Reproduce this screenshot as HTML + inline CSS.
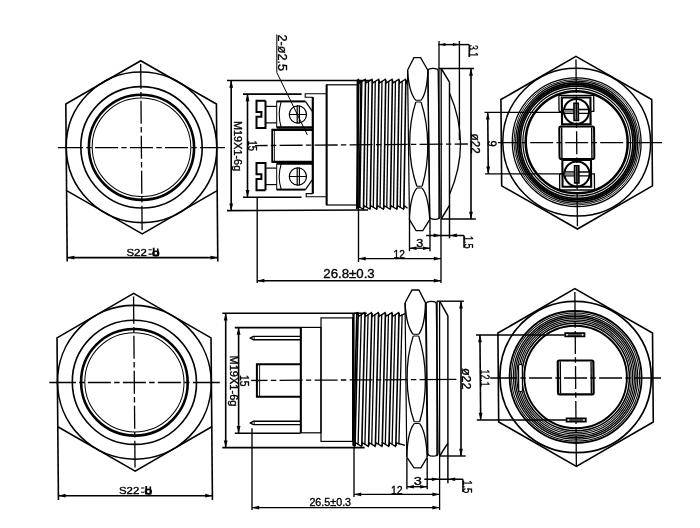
<!DOCTYPE html>
<html><head><meta charset="utf-8"><style>
html,body{margin:0;padding:0;background:#fff;}
svg{display:block;will-change:transform;}
text{font-family:"Liberation Sans",sans-serif;fill:#000;stroke:#000;stroke-width:0.35px;}
</style></head><body>
<svg width="700" height="528" viewBox="0 0 700 528">
<rect width="700" height="528" fill="#fff"/>
<g fill="none" stroke="#000" stroke-linecap="butt" stroke-linejoin="miter">
<g transform="translate(0 147.3) skewX(0.5) translate(0 -147.3)">
<polygon points="141.5,60.7 216.8,104 216.8,190.6 141.5,233.9 66.2,190.6 66.2,104" stroke-width="1.6"/>
<circle cx="141.5" cy="147.3" r="75.3" stroke-width="1.6"/>
<circle cx="141.5" cy="147.3" r="60.7" stroke-width="1.6"/>
<circle cx="141.5" cy="147.3" r="52.6" stroke-width="2.6"/>
<circle cx="141.5" cy="147.3" r="49.3" stroke-width="1"/>
<line x1="130" y1="147.7" x2="153" y2="147.7" stroke-width="1.3"/>
<line x1="156.3" y1="147.7" x2="161.7" y2="147.7" stroke-width="1.3"/>
<line x1="165" y1="147.7" x2="188" y2="147.7" stroke-width="1.3"/>
<line x1="191.3" y1="147.7" x2="196.7" y2="147.7" stroke-width="1.3"/>
<line x1="200" y1="147.7" x2="225" y2="147.7" stroke-width="1.3"/>
<line x1="121.3" y1="147.7" x2="126.7" y2="147.7" stroke-width="1.3"/>
<line x1="95" y1="147.7" x2="118" y2="147.7" stroke-width="1.3"/>
<line x1="86.3" y1="147.7" x2="91.7" y2="147.7" stroke-width="1.3"/>
<line x1="57.9" y1="147.7" x2="83" y2="147.7" stroke-width="1.3"/>
<line x1="141.4" y1="135.8" x2="141.4" y2="158.8" stroke-width="1.3"/>
<line x1="141.4" y1="162.1" x2="141.4" y2="167.5" stroke-width="1.3"/>
<line x1="141.4" y1="170.8" x2="141.4" y2="193.8" stroke-width="1.3"/>
<line x1="141.4" y1="197.1" x2="141.4" y2="202.5" stroke-width="1.3"/>
<line x1="141.4" y1="205.8" x2="141.4" y2="230.3" stroke-width="1.3"/>
<line x1="141.4" y1="127.1" x2="141.4" y2="132.5" stroke-width="1.3"/>
<line x1="141.4" y1="100.8" x2="141.4" y2="123.8" stroke-width="1.3"/>
<line x1="141.4" y1="92.1" x2="141.4" y2="97.5" stroke-width="1.3"/>
<line x1="141.4" y1="63.9" x2="141.4" y2="88.8" stroke-width="1.3"/>
<line x1="66.2" y1="190.6" x2="66.2" y2="261.4" stroke-width="1.6"/>
<line x1="216.8" y1="190.6" x2="216.8" y2="261.4" stroke-width="1.6"/>
<line x1="66.2" y1="257.6" x2="216.8" y2="257.6" stroke-width="1.6"/>
<polygon points="66.2,257.6 73.4,255.7 73.4,259.5" fill="#000" stroke="none"/>
<polygon points="216.8,257.6 209.6,255.7 209.6,259.5" fill="#000" stroke="none"/>
<text x="125.5" y="255.8" font-size="10.2" textLength="20.3" lengthAdjust="spacingAndGlyphs">S22</text>
<line x1="147.6" y1="249.8" x2="150.9" y2="249.8" stroke-width="1.1"/>
<line x1="147.6" y1="254.1" x2="150.9" y2="254.1" stroke-width="1.1"/>
<line x1="152.8" y1="247.8" x2="152.8" y2="256" stroke-width="1.8"/>
<line x1="156.9" y1="248.4" x2="156.9" y2="256" stroke-width="1.6"/>
<ellipse cx="154.9" cy="253.4" rx="2.9" ry="2.2" stroke-width="1.6"/>
<line x1="151.9" y1="255.5" x2="157.9" y2="255.5" stroke-width="1.4"/>
</g>
<g transform="translate(0 382.3) skewX(0.5) translate(0 -382.3)">
<polygon points="134.4,293.4 211.4,337.85 211.4,426.75 134.4,471.2 57.4,426.75 57.4,337.85" stroke-width="1.6"/>
<circle cx="134.4" cy="382.3" r="76.9" stroke-width="1.6"/>
<circle cx="134.4" cy="382.3" r="62.1" stroke-width="1.6"/>
<circle cx="134.4" cy="382.3" r="53.3" stroke-width="2.6"/>
<circle cx="134.4" cy="382.3" r="49.6" stroke-width="1"/>
<line x1="122.9" y1="382.5" x2="145.9" y2="382.5" stroke-width="1.3"/>
<line x1="149.2" y1="382.5" x2="154.6" y2="382.5" stroke-width="1.3"/>
<line x1="157.9" y1="382.5" x2="180.9" y2="382.5" stroke-width="1.3"/>
<line x1="184.2" y1="382.5" x2="189.6" y2="382.5" stroke-width="1.3"/>
<line x1="192.9" y1="382.5" x2="219.8" y2="382.5" stroke-width="1.3"/>
<line x1="114.2" y1="382.5" x2="119.6" y2="382.5" stroke-width="1.3"/>
<line x1="87.9" y1="382.5" x2="110.9" y2="382.5" stroke-width="1.3"/>
<line x1="79.2" y1="382.5" x2="84.6" y2="382.5" stroke-width="1.3"/>
<line x1="49.3" y1="382.5" x2="75.9" y2="382.5" stroke-width="1.3"/>
<line x1="134.3" y1="370.8" x2="134.3" y2="393.8" stroke-width="1.3"/>
<line x1="134.3" y1="397.1" x2="134.3" y2="402.5" stroke-width="1.3"/>
<line x1="134.3" y1="405.8" x2="134.3" y2="428.8" stroke-width="1.3"/>
<line x1="134.3" y1="432.1" x2="134.3" y2="437.5" stroke-width="1.3"/>
<line x1="134.3" y1="440.8" x2="134.3" y2="467.5" stroke-width="1.3"/>
<line x1="134.3" y1="362.1" x2="134.3" y2="367.5" stroke-width="1.3"/>
<line x1="134.3" y1="335.8" x2="134.3" y2="358.8" stroke-width="1.3"/>
<line x1="134.3" y1="327.1" x2="134.3" y2="332.5" stroke-width="1.3"/>
<line x1="134.3" y1="296.5" x2="134.3" y2="323.8" stroke-width="1.3"/>
<line x1="57.4" y1="426.75" x2="57.4" y2="500" stroke-width="1.6"/>
<line x1="211.4" y1="426.75" x2="211.4" y2="500" stroke-width="1.6"/>
<line x1="57.4" y1="495.7" x2="211.4" y2="495.7" stroke-width="1.6"/>
<polygon points="57.4,495.7 64.6,493.8 64.6,497.6" fill="#000" stroke="none"/>
<polygon points="211.4,495.7 204.2,493.8 204.2,497.6" fill="#000" stroke="none"/>
<text x="118" y="494" font-size="10.2" textLength="20.3" lengthAdjust="spacingAndGlyphs">S22</text>
<line x1="140.1" y1="488" x2="143.4" y2="488" stroke-width="1.1"/>
<line x1="140.1" y1="492.3" x2="143.4" y2="492.3" stroke-width="1.1"/>
<line x1="145.3" y1="486" x2="145.3" y2="494.2" stroke-width="1.8"/>
<line x1="149.4" y1="486.6" x2="149.4" y2="494.2" stroke-width="1.6"/>
<ellipse cx="147.4" cy="491.6" rx="2.9" ry="2.2" stroke-width="1.6"/>
<line x1="144.4" y1="493.7" x2="150.4" y2="493.7" stroke-width="1.4"/>
</g>
<g transform="translate(0 142.7) skewX(0.5) translate(0 -142.7)">
<polygon points="576.7,56.4 652.1,99.55 652.1,185.85 576.7,229 501.3,185.85 501.3,99.55" stroke-width="1.6"/>
<circle cx="576.7" cy="142.2" r="73.9" stroke-width="1.5"/>
<circle cx="576.7" cy="142.2" r="64.4" stroke-width="1.3"/>
<circle cx="576.7" cy="142.2" r="62.8" stroke-width="0.9"/>
<circle cx="576.7" cy="142.2" r="61" stroke-width="1.2"/>
<circle cx="576.7" cy="142.2" r="59.3" stroke-width="1.6"/>
<circle cx="576.7" cy="142.2" r="57.7" stroke-width="1.8"/>
<circle cx="576.7" cy="142.2" r="56.1" stroke-width="1.6"/>
<circle cx="576.7" cy="142.2" r="53.8" stroke-width="1.2"/>
<circle cx="576.7" cy="142.2" r="51" stroke-width="2.5"/>
<polyline points="559.3,111.4 559.3,95.3 594.1,95.3 594.1,111.4 590.8,111.4" stroke-width="1.3"/>
<line x1="559.3" y1="111.4" x2="562.2" y2="111.4" stroke-width="1.3"/>
<rect x="562.2" y="97.5" width="28.6" height="26.8" stroke-width="2.1" fill="#fff"/>
<circle cx="576.7" cy="111.4" r="12.5" stroke-width="2"/>
<rect x="563.8" y="109.5" width="25.1" height="3.8" stroke-width="1.3" fill="#fff"/>
<rect x="564.4" y="110.1" width="10" height="2.6" stroke="none" fill="#888"/>
<rect x="574.3" y="103.3" width="4.3" height="17.1" stroke-width="1.6" fill="#bbb"/>
<line x1="576.45" y1="103.9" x2="576.45" y2="119.8" stroke-width="0.8"/>
<polyline points="559.3,173.9 559.3,190 594.1,190 594.1,173.9 590.8,173.9" stroke-width="1.3"/>
<line x1="559.3" y1="173.9" x2="562.2" y2="173.9" stroke-width="1.3"/>
<rect x="562.2" y="160" width="28.6" height="26.8" stroke-width="2.1" fill="#fff"/>
<circle cx="576.7" cy="173.9" r="12.5" stroke-width="2"/>
<rect x="563.8" y="172" width="25.1" height="3.8" stroke-width="1.3" fill="#fff"/>
<rect x="564.4" y="172.6" width="10" height="2.6" stroke="none" fill="#888"/>
<rect x="574.3" y="165.8" width="4.3" height="17.1" stroke-width="1.6" fill="#bbb"/>
<line x1="576.45" y1="166.4" x2="576.45" y2="182.3" stroke-width="0.8"/>
<rect x="559.4" y="126.4" width="34.8" height="32.7" rx="1.8" stroke-width="2" fill="#fff"/>
<line x1="561.8" y1="127.5" x2="561.8" y2="158" stroke-width="1.35"/>
<line x1="591.8" y1="127.5" x2="591.8" y2="158" stroke-width="1.35"/>
<line x1="565.2" y1="142.7" x2="588.2" y2="142.7" stroke-width="1.3"/>
<line x1="591.5" y1="142.7" x2="596.9" y2="142.7" stroke-width="1.3"/>
<line x1="600.2" y1="142.7" x2="623.2" y2="142.7" stroke-width="1.3"/>
<line x1="626.5" y1="142.7" x2="631.9" y2="142.7" stroke-width="1.3"/>
<line x1="635.2" y1="142.7" x2="662" y2="142.7" stroke-width="1.3"/>
<line x1="556.5" y1="142.7" x2="561.9" y2="142.7" stroke-width="1.3"/>
<line x1="530.2" y1="142.7" x2="553.2" y2="142.7" stroke-width="1.3"/>
<line x1="521.5" y1="142.7" x2="526.9" y2="142.7" stroke-width="1.3"/>
<line x1="498" y1="142.7" x2="518.2" y2="142.7" stroke-width="1.3"/>
<line x1="576.7" y1="131.2" x2="576.7" y2="154.2" stroke-width="1.3"/>
<line x1="576.7" y1="157.5" x2="576.7" y2="162.9" stroke-width="1.3"/>
<line x1="576.7" y1="166.2" x2="576.7" y2="189.2" stroke-width="1.3"/>
<line x1="576.7" y1="192.5" x2="576.7" y2="197.9" stroke-width="1.3"/>
<line x1="576.7" y1="201.2" x2="576.7" y2="226.2" stroke-width="1.3"/>
<line x1="576.7" y1="122.5" x2="576.7" y2="127.9" stroke-width="1.3"/>
<line x1="576.7" y1="96.2" x2="576.7" y2="119.2" stroke-width="1.3"/>
<line x1="576.7" y1="87.5" x2="576.7" y2="92.9" stroke-width="1.3"/>
<line x1="576.7" y1="59.5" x2="576.7" y2="84.2" stroke-width="1.3"/>
<line x1="484.8" y1="112.4" x2="565" y2="112.4" stroke-width="1.35"/>
<line x1="484.8" y1="173.8" x2="565" y2="173.8" stroke-width="1.35"/>
<line x1="488" y1="112.4" x2="488" y2="173.8" stroke-width="1.6"/>
<polygon points="488,112.4 486.1,119.6 489.9,119.6" fill="#000" stroke="none"/>
<polygon points="488,173.8 486.1,166.6 489.9,166.6" fill="#000" stroke="none"/>
<text x="140.6" y="-488.1" font-size="12.3" textLength="6.2" lengthAdjust="spacingAndGlyphs" transform="rotate(90)">9</text>
</g>
<g transform="translate(0 377.5) skewX(0.5) translate(0 -377.5)">
<polygon points="575.6,288.6 652.9,333.05 652.9,421.95 575.6,466.4 498.3,421.95 498.3,333.05" stroke-width="1.6"/>
<circle cx="575.6" cy="377" r="75.7" stroke-width="1.7"/>
<circle cx="575.6" cy="377" r="66" stroke-width="1.8"/>
<circle cx="575.6" cy="377" r="64.1" stroke-width="1"/>
<circle cx="575.6" cy="377" r="62.2" stroke-width="1.2"/>
<circle cx="575.6" cy="377" r="60.5" stroke-width="1.3"/>
<circle cx="575.6" cy="377" r="58.8" stroke-width="1.2"/>
<circle cx="575.6" cy="377" r="57.1" stroke-width="1.2"/>
<circle cx="575.6" cy="377" r="55.5" stroke-width="1"/>
<circle cx="575.6" cy="377" r="53.8" stroke-width="1.5"/>
<circle cx="575.6" cy="377" r="51.3" stroke-width="1.9"/>
<rect x="518.6" y="364.5" width="3.8" height="27" rx="1.5" stroke-width="1.2" fill="#fff"/>
<rect x="557.9" y="360.5" width="35.6" height="33.8" rx="1.5" stroke-width="2.2" fill="#fff"/>
<line x1="560.4" y1="361.5" x2="560.4" y2="393.5" stroke-width="1.35"/>
<line x1="591.2" y1="361.5" x2="591.2" y2="393.5" stroke-width="1.35"/>
<line x1="564.1" y1="378" x2="587.1" y2="378" stroke-width="1.3"/>
<line x1="590.4" y1="378" x2="595.8" y2="378" stroke-width="1.3"/>
<line x1="599.1" y1="378" x2="622.1" y2="378" stroke-width="1.3"/>
<line x1="625.4" y1="378" x2="630.8" y2="378" stroke-width="1.3"/>
<line x1="634.1" y1="378" x2="661" y2="378" stroke-width="1.3"/>
<line x1="555.4" y1="378" x2="560.8" y2="378" stroke-width="1.3"/>
<line x1="529.1" y1="378" x2="552.1" y2="378" stroke-width="1.3"/>
<line x1="520.4" y1="378" x2="525.8" y2="378" stroke-width="1.3"/>
<line x1="490.2" y1="378" x2="517.1" y2="378" stroke-width="1.3"/>
<line x1="575.6" y1="366" x2="575.6" y2="389" stroke-width="1.3"/>
<line x1="575.6" y1="392.3" x2="575.6" y2="397.7" stroke-width="1.3"/>
<line x1="575.6" y1="401" x2="575.6" y2="424" stroke-width="1.3"/>
<line x1="575.6" y1="427.3" x2="575.6" y2="432.7" stroke-width="1.3"/>
<line x1="575.6" y1="436" x2="575.6" y2="466" stroke-width="1.3"/>
<line x1="575.6" y1="357.3" x2="575.6" y2="362.7" stroke-width="1.3"/>
<line x1="575.6" y1="331" x2="575.6" y2="354" stroke-width="1.3"/>
<line x1="575.6" y1="322.3" x2="575.6" y2="327.7" stroke-width="1.3"/>
<line x1="575.6" y1="292.1" x2="575.6" y2="319" stroke-width="1.3"/>
<rect x="565.6" y="333.1" width="19.2" height="3.3" stroke-width="1.8" fill="#555"/>
<rect x="566.6" y="334" width="1.6" height="1.5" stroke="none" fill="#fff"/>
<rect x="582.2" y="334" width="1.6" height="1.5" stroke="none" fill="#fff"/>
<rect x="566.2" y="418.3" width="19.2" height="3.3" stroke-width="1.8" fill="#555"/>
<rect x="567.2" y="419.2" width="1.6" height="1.5" stroke="none" fill="#fff"/>
<rect x="582.8" y="419.2" width="1.6" height="1.5" stroke="none" fill="#fff"/>
<line x1="476.4" y1="335" x2="565" y2="335" stroke-width="1.35"/>
<line x1="476.4" y1="420" x2="565.6" y2="420" stroke-width="1.35"/>
<line x1="480.3" y1="335" x2="480.3" y2="420" stroke-width="1.6"/>
<polygon points="480.3,335 478.4,342.2 482.2,342.2" fill="#000" stroke="none"/>
<polygon points="480.3,420 478.4,412.8 482.2,412.8" fill="#000" stroke="none"/>
<text x="369.5" y="-480.6" font-size="13" textLength="17.2" lengthAdjust="spacingAndGlyphs" transform="rotate(90)">12.1</text>
</g>
<line x1="227" y1="80.5" x2="371.5" y2="80.5" stroke-width="1.6"/>
<line x1="227" y1="210.6" x2="368" y2="210" stroke-width="1.6"/>
<line x1="231.2" y1="80.5" x2="231.2" y2="210.8" stroke-width="1.6"/>
<polygon points="231.2,80.5 229.3,87.7 233.1,87.7" fill="#000" stroke="none"/>
<polygon points="231.2,210.8 229.3,203.6 233.1,203.6" fill="#000" stroke="none"/>
<text x="121" y="-234.4" font-size="11" textLength="50.2" lengthAdjust="spacingAndGlyphs" transform="rotate(90)">M19X1-6g</text>
<line x1="243" y1="94.1" x2="301.6" y2="94.1" stroke-width="1.6"/>
<line x1="243" y1="197.2" x2="301.6" y2="197.2" stroke-width="1.6"/>
<line x1="247.5" y1="94.1" x2="247.5" y2="197.2" stroke-width="1.6"/>
<polygon points="247.5,94.1 245.6,101.3 249.4,101.3" fill="#000" stroke="none"/>
<polygon points="247.5,197.2 245.6,190 249.4,190" fill="#000" stroke="none"/>
<text x="140.5" y="-248" font-size="12" textLength="10.5" lengthAdjust="spacingAndGlyphs" transform="rotate(90)">15</text>
<text x="34.6" y="-277.8" font-size="13.5" textLength="36.5" lengthAdjust="spacingAndGlyphs" transform="rotate(90)">2-ø2.5</text>
<polyline points="276.8,34.5 276.8,72.5 307.4,135" stroke-width="1"/>
<polyline points="265.5,100.8 256.5,100.8 256.5,112 261.4,112 261.4,116.7 256.5,116.7 256.5,128 265.5,128 265.5,100.8" stroke-width="2"/>
<line x1="265.5" y1="106.4" x2="276.7" y2="106.4" stroke-width="1.2"/>
<line x1="265.5" y1="122.9" x2="276.7" y2="122.9" stroke-width="1.2"/>
<line x1="276.7" y1="101.2" x2="276.7" y2="127.5" stroke-width="1"/>
<line x1="276.7" y1="101.4" x2="305.4" y2="101.4" stroke-width="2"/>
<line x1="276.7" y1="127.5" x2="312.8" y2="127.5" stroke-width="2.6"/>
<path d="M281.2,101.6 Q277.2,114.4 281.2,127.2" stroke-width="1.1" fill="none"/>
<line x1="305.4" y1="101.4" x2="312.8" y2="111.8" stroke-width="1.2"/>
<circle cx="297.9" cy="114.5" r="8.6" stroke-width="1.2"/>
<line x1="289" y1="114.5" x2="306.8" y2="114.5" stroke-width="1"/>
<line x1="297.2" y1="105.6" x2="297.2" y2="123.4" stroke-width="1.2"/>
<line x1="299.4" y1="105.6" x2="299.4" y2="123.4" stroke-width="1.2"/>
<polyline points="265.5,190.2 256.5,190.2 256.5,179 261.4,179 261.4,174.3 256.5,174.3 256.5,163 265.5,163 265.5,190.2" stroke-width="2"/>
<line x1="265.5" y1="184.6" x2="276.7" y2="184.6" stroke-width="1.2"/>
<line x1="265.5" y1="168.1" x2="276.7" y2="168.1" stroke-width="1.2"/>
<line x1="276.7" y1="189.8" x2="276.7" y2="163.5" stroke-width="1"/>
<line x1="276.7" y1="189.6" x2="305.4" y2="189.6" stroke-width="2"/>
<line x1="276.7" y1="163.5" x2="312.8" y2="163.5" stroke-width="2.6"/>
<path d="M281.2,189.4 Q277.2,176.6 281.2,163.8" stroke-width="1.1" fill="none"/>
<line x1="305.4" y1="189.6" x2="312.8" y2="179.2" stroke-width="1.2"/>
<circle cx="297.9" cy="176.5" r="8.6" stroke-width="1.2"/>
<line x1="289" y1="176.5" x2="306.8" y2="176.5" stroke-width="1"/>
<line x1="297.2" y1="185.4" x2="297.2" y2="167.6" stroke-width="1.2"/>
<line x1="299.4" y1="185.4" x2="299.4" y2="167.6" stroke-width="1.2"/>
<line x1="272.2" y1="129.8" x2="312.8" y2="129.8" stroke-width="2.2"/>
<line x1="272.2" y1="161.8" x2="312.8" y2="161.8" stroke-width="2.2"/>
<line x1="272.2" y1="128.8" x2="272.2" y2="162.8" stroke-width="1.8"/>
<line x1="274.4" y1="130.5" x2="274.4" y2="161" stroke-width="0.9"/>
<line x1="312.8" y1="97.1" x2="312.8" y2="193.6" stroke-width="2.2"/>
<polyline points="312.8,97.3 305.2,97.3 305.2,93.7 326.4,93.7" stroke-width="1.1"/>
<polyline points="312.8,193.6 306.2,193.6 306.2,196.8 326.4,196.8" stroke-width="1.1"/>
<rect x="326.6" y="84.8" width="30.8" height="120.2" stroke-width="1.2" fill="none"/>
<line x1="326.6" y1="84.8" x2="326.6" y2="205" stroke-width="2"/>
<line x1="419.6" y1="144.36" x2="442.6" y2="144.19" stroke-width="1.3"/>
<line x1="445.9" y1="144.16" x2="451.3" y2="144.12" stroke-width="1.3"/>
<line x1="454.6" y1="144.1" x2="467.8" y2="144" stroke-width="1.3"/>
<line x1="410.9" y1="144.43" x2="416.3" y2="144.39" stroke-width="1.3"/>
<line x1="384.6" y1="144.63" x2="407.6" y2="144.45" stroke-width="1.3"/>
<line x1="375.9" y1="144.69" x2="381.3" y2="144.65" stroke-width="1.3"/>
<line x1="349.6" y1="144.89" x2="372.6" y2="144.72" stroke-width="1.3"/>
<line x1="340.9" y1="144.95" x2="346.3" y2="144.91" stroke-width="1.3"/>
<line x1="314.6" y1="145.15" x2="337.6" y2="144.98" stroke-width="1.3"/>
<line x1="305.9" y1="145.22" x2="311.3" y2="145.18" stroke-width="1.3"/>
<line x1="279.6" y1="145.42" x2="302.6" y2="145.24" stroke-width="1.3"/>
<line x1="270.9" y1="145.48" x2="276.3" y2="145.44" stroke-width="1.3"/>
<line x1="255.1" y1="145.6" x2="267.6" y2="145.51" stroke-width="1.3"/>
<polyline points="357,80.5 358.5,79.3 359.4,82.9 365.22,79.3 366.12,82.9 371.94,79.3 372.84,82.9 378.66,79.3 379.56,82.9 385.38,79.3 386.28,82.9 392.1,79.3 393,82.9 398.82,79.3 399.72,82.9 405.54,79.3 406.44,82.9 407.5,80.38" stroke-width="1.3"/>
<polyline points="357,208.1 356.5,209.3 357.4,205.7 363.22,209.3 364.12,205.7 369.94,209.3 370.84,205.7 376.66,209.3 377.56,205.7 383.38,209.3 384.28,205.7 390.1,209.3 391,205.7 396.82,209.3 397.72,205.7 403.54,209.3 404.44,205.7 407.5,208.22" stroke-width="1.3"/>
<line x1="358.8" y1="79.8" x2="356.8" y2="208.8" stroke-width="1.6"/>
<line x1="361.86" y1="81.1" x2="359.86" y2="207.5" stroke-width="1.3"/>
<line x1="365.52" y1="79.8" x2="363.52" y2="208.8" stroke-width="1.6"/>
<line x1="368.58" y1="81.1" x2="366.58" y2="207.5" stroke-width="1.3"/>
<line x1="372.24" y1="79.8" x2="370.24" y2="208.8" stroke-width="1.6"/>
<line x1="375.3" y1="81.1" x2="373.3" y2="207.5" stroke-width="1.3"/>
<line x1="378.96" y1="79.8" x2="376.96" y2="208.8" stroke-width="1.6"/>
<line x1="382.02" y1="81.1" x2="380.02" y2="207.5" stroke-width="1.3"/>
<line x1="385.68" y1="79.8" x2="383.68" y2="208.8" stroke-width="1.6"/>
<line x1="388.74" y1="81.1" x2="386.74" y2="207.5" stroke-width="1.3"/>
<line x1="392.4" y1="79.8" x2="390.4" y2="208.8" stroke-width="1.6"/>
<line x1="395.46" y1="81.1" x2="393.46" y2="207.5" stroke-width="1.3"/>
<line x1="399.12" y1="79.8" x2="397.12" y2="208.8" stroke-width="1.6"/>
<line x1="402.18" y1="81.1" x2="400.18" y2="207.5" stroke-width="1.3"/>
<line x1="405.84" y1="79.8" x2="403.84" y2="208.8" stroke-width="1.6"/>
<line x1="357.7" y1="80.5" x2="357.7" y2="208.1" stroke-width="2.2"/>
<line x1="361" y1="80.5" x2="359" y2="208.1" stroke-width="1.6"/>
<g transform="translate(0 144) skewX(0.72) translate(0 -144)">
<polyline points="408.5,70.2 415,57.7 421.7,57.7 428.8,70.2" stroke-width="1.3"/>
<polyline points="408.5,219.7 415,230.7 421.7,230.7 428.8,219.7" stroke-width="1.3"/>
<line x1="408.5" y1="70.2" x2="408.5" y2="219.7" stroke-width="1.2"/>
<line x1="428.8" y1="70.2" x2="428.8" y2="219.7" stroke-width="1.2"/>
<line x1="416.3" y1="100.3" x2="421.6" y2="100.3" stroke-width="1"/>
<line x1="416.3" y1="102.1" x2="421.6" y2="102.1" stroke-width="1"/>
<line x1="416.3" y1="188.1" x2="421.6" y2="188.1" stroke-width="1"/>
<line x1="416.3" y1="186.3" x2="421.6" y2="186.3" stroke-width="1"/>
<path d="M408.5,70.2 Q409.5,92.3 416.3,100.3" stroke-width="1.3" fill="none"/>
<path d="M428.8,70.2 Q427.8,92.3 421.6,100.3" stroke-width="1.3" fill="none"/>
<path d="M408.5,219.7 Q409.5,196.1 416.3,188.1" stroke-width="1.3" fill="none"/>
<path d="M428.8,219.7 Q427.8,196.1 421.6,188.1" stroke-width="1.3" fill="none"/>
<path d="M416.3,102.1 C407.5,128.3 407.5,160.1 416.3,186.3" stroke-width="1.3" fill="none"/>
<path d="M421.6,102.1 C429.8,128.3 429.8,160.1 421.6,186.3" stroke-width="1.3" fill="none"/>
<path d="M428.8,71 Q428.8,68.4 433.9,68.4 Q439.1,68.4 439.1,71 L439.1,216.5 Q439.1,219.3 433.9,219.3 Q428.8,219.3 428.8,216.5 Z" stroke-width="1.3" fill="none"/>
</g>
<line x1="439" y1="41" x2="439" y2="219" stroke-width="1.3"/>
<line x1="441.2" y1="68.5" x2="441.2" y2="219" stroke-width="1.3"/>
<line x1="438.6" y1="68.5" x2="474" y2="68.5" stroke-width="1.4"/>
<line x1="441.5" y1="219" x2="475.8" y2="219" stroke-width="1.4"/>
<line x1="441.2" y1="68.5" x2="449.5" y2="82.2" stroke-width="1.45"/>
<line x1="441.2" y1="219" x2="449.5" y2="205.4" stroke-width="1.45"/>
<line x1="449.5" y1="82.2" x2="449.5" y2="238.3" stroke-width="1.45"/>
<path d="M449.5,93 Q471.5,143.8 449.5,194.5" stroke-width="1.3" fill="none"/>
<line x1="459.4" y1="41" x2="459.4" y2="140" stroke-width="1.35"/>
<line x1="438.5" y1="44.6" x2="469.2" y2="44.6" stroke-width="1.45"/>
<polygon points="439,44.6 445.5,43.1 445.5,46.1" fill="#000" stroke="none"/>
<polygon points="459.4,44.6 452.9,43.1 452.9,46.1" fill="#000" stroke="none"/>
<line x1="469.2" y1="44.6" x2="469.2" y2="57" stroke-width="1.35"/>
<text x="45" y="-469.2" font-size="12.5" textLength="12.1" lengthAdjust="spacingAndGlyphs" transform="rotate(90)">3.1</text>
<line x1="471" y1="68.5" x2="471" y2="219" stroke-width="1.6"/>
<polygon points="471,68.5 469.1,75.7 472.9,75.7" fill="#000" stroke="none"/>
<polygon points="471,219 469.1,211.8 472.9,211.8" fill="#000" stroke="none"/>
<text x="133.5" y="-471.3" font-size="12.9" textLength="20.2" lengthAdjust="spacingAndGlyphs" transform="rotate(90)">ø22</text>
<line x1="409.5" y1="219.5" x2="409.5" y2="251.2" stroke-width="1.35"/>
<line x1="430" y1="219.5" x2="430" y2="251.2" stroke-width="1.35"/>
<line x1="409.5" y1="248.2" x2="430" y2="248.2" stroke-width="1.35"/>
<polygon points="409.5,248.2 416.5,246.4 416.5,250" fill="#000" stroke="none"/>
<polygon points="430,248.2 423,246.4 423,250" fill="#000" stroke="none"/>
<text x="416.2" y="247.1" font-size="10" textLength="7" lengthAdjust="spacingAndGlyphs">3</text>
<line x1="426.1" y1="235.4" x2="464" y2="235.4" stroke-width="1.45"/>
<line x1="464" y1="235.4" x2="464" y2="247.7" stroke-width="1.45"/>
<polygon points="440.6,235.4 433.6,233.6 433.6,237.2" fill="#000" stroke="none"/>
<polygon points="449.8,235.4 456.8,233.6 456.8,237.2" fill="#000" stroke="none"/>
<text x="235.9" y="-464.3" font-size="12.7" textLength="12.6" lengthAdjust="spacingAndGlyphs" transform="rotate(90)">1.5</text>
<line x1="441" y1="219" x2="441" y2="283" stroke-width="1.35"/>
<line x1="358.5" y1="208" x2="358.5" y2="262" stroke-width="1.35"/>
<line x1="257.2" y1="197.5" x2="257.2" y2="283" stroke-width="1.35"/>
<line x1="358.5" y1="258.6" x2="441" y2="258.6" stroke-width="1.35"/>
<polygon points="358.5,258.6 365.7,256.7 365.7,260.5" fill="#000" stroke="none"/>
<polygon points="441,258.6 433.8,256.7 433.8,260.5" fill="#000" stroke="none"/>
<text x="393.5" y="257.8" font-size="11.2" textLength="11.3" lengthAdjust="spacingAndGlyphs">12</text>
<line x1="257.2" y1="280.7" x2="441" y2="280.7" stroke-width="1.5"/>
<polygon points="257.2,280.7 264.4,278.8 264.4,282.6" fill="#000" stroke="none"/>
<polygon points="441,280.7 433.8,278.8 433.8,282.6" fill="#000" stroke="none"/>
<text x="323.3" y="277.6" font-size="12.9" textLength="51.4" lengthAdjust="spacingAndGlyphs">26.8±0.3</text>
<line x1="222.3" y1="313.3" x2="366.7" y2="313.3" stroke-width="1.6"/>
<line x1="222.3" y1="447.6" x2="364.6" y2="447.6" stroke-width="1.6"/>
<line x1="225.7" y1="313.3" x2="225.7" y2="447.6" stroke-width="1.6"/>
<polygon points="225.7,313.3 223.8,320.5 227.6,320.5" fill="#000" stroke="none"/>
<polygon points="225.7,447.6 223.8,440.4 227.6,440.4" fill="#000" stroke="none"/>
<text x="355.5" y="-230" font-size="11.4" textLength="51" lengthAdjust="spacingAndGlyphs" transform="rotate(90)">M19X1-6g</text>
<line x1="234.8" y1="327.6" x2="300.6" y2="327.6" stroke-width="1.6"/>
<line x1="234.8" y1="433.2" x2="300.6" y2="433.2" stroke-width="1.6"/>
<line x1="238.6" y1="327.6" x2="238.6" y2="433.2" stroke-width="1.6"/>
<polygon points="238.6,327.6 236.7,334.8 240.5,334.8" fill="#000" stroke="none"/>
<polygon points="238.6,433.2 236.7,426 240.5,426" fill="#000" stroke="none"/>
<text x="375" y="-239.9" font-size="12" textLength="11.6" lengthAdjust="spacingAndGlyphs" transform="rotate(90)">15</text>
<path d="M300.5,336.4 H253.3 L250.4,338.05 L253.3,339.7 H300.5" stroke-width="1.4" fill="none"/>
<line x1="254.2" y1="336.4" x2="254.2" y2="339.7" stroke-width="0.9"/>
<path d="M300.5,421.3 H253.3 L250.4,422.95 L253.3,424.6 H300.5" stroke-width="1.4" fill="none"/>
<line x1="254.2" y1="421.3" x2="254.2" y2="424.6" stroke-width="0.9"/>
<polyline points="300.6,364.2 256.9,364.2 256.9,396.8 300.6,396.8" stroke-width="2"/>
<line x1="259.6" y1="365" x2="259.6" y2="396" stroke-width="0.9"/>
<rect x="300.8" y="327.4" width="20.2" height="105.4" stroke-width="1.2" fill="none"/>
<line x1="300.8" y1="327.4" x2="300.8" y2="432.8" stroke-width="2"/>
<rect x="321.0" y="317.9" width="31.6" height="123.5" stroke-width="1.2" fill="none"/>
<line x1="419.6" y1="379.6" x2="456.4" y2="379.4" stroke-width="1.3"/>
<line x1="410.9" y1="379.64" x2="416.3" y2="379.61" stroke-width="1.3"/>
<line x1="384.6" y1="379.78" x2="407.6" y2="379.66" stroke-width="1.3"/>
<line x1="375.9" y1="379.83" x2="381.3" y2="379.8" stroke-width="1.3"/>
<line x1="349.6" y1="379.97" x2="372.6" y2="379.85" stroke-width="1.3"/>
<line x1="340.9" y1="380.02" x2="346.3" y2="379.99" stroke-width="1.3"/>
<line x1="314.6" y1="380.16" x2="337.6" y2="380.04" stroke-width="1.3"/>
<line x1="305.9" y1="380.21" x2="311.3" y2="380.18" stroke-width="1.3"/>
<line x1="279.6" y1="380.35" x2="302.6" y2="380.22" stroke-width="1.3"/>
<line x1="270.9" y1="380.39" x2="276.3" y2="380.37" stroke-width="1.3"/>
<line x1="251.2" y1="380.5" x2="267.6" y2="380.41" stroke-width="1.3"/>
<polyline points="352.8,313.8 357.9,312.6 358.8,316.2 364.7,312.6 365.6,316.2 371.5,312.6 372.4,316.2 378.3,312.6 379.2,316.2 385.1,312.6 386,316.2 391.9,312.6 392.8,316.2 398.7,312.6 399.6,316.2 405,313.68" stroke-width="1.3"/>
<polyline points="352.8,445.2 354.7,446.4 355.6,442.8 361.5,446.4 362.4,442.8 368.3,446.4 369.2,442.8 375.1,446.4 376,442.8 381.9,446.4 382.8,442.8 388.7,446.4 389.6,442.8 395.5,446.4 396.4,442.8 405,445.32" stroke-width="1.3"/>
<line x1="358.2" y1="313.1" x2="355" y2="445.9" stroke-width="1.6"/>
<line x1="361.3" y1="314.4" x2="358.1" y2="444.6" stroke-width="1.3"/>
<line x1="365" y1="313.1" x2="361.8" y2="445.9" stroke-width="1.6"/>
<line x1="368.1" y1="314.4" x2="364.9" y2="444.6" stroke-width="1.3"/>
<line x1="371.8" y1="313.1" x2="368.6" y2="445.9" stroke-width="1.6"/>
<line x1="374.9" y1="314.4" x2="371.7" y2="444.6" stroke-width="1.3"/>
<line x1="378.6" y1="313.1" x2="375.4" y2="445.9" stroke-width="1.6"/>
<line x1="381.7" y1="314.4" x2="378.5" y2="444.6" stroke-width="1.3"/>
<line x1="385.4" y1="313.1" x2="382.2" y2="445.9" stroke-width="1.6"/>
<line x1="388.5" y1="314.4" x2="385.3" y2="444.6" stroke-width="1.3"/>
<line x1="392.2" y1="313.1" x2="389" y2="445.9" stroke-width="1.6"/>
<line x1="395.3" y1="314.4" x2="392.1" y2="444.6" stroke-width="1.3"/>
<line x1="399" y1="313.1" x2="395.8" y2="445.9" stroke-width="1.6"/>
<line x1="402.1" y1="314.4" x2="398.9" y2="444.6" stroke-width="1.3"/>
<line x1="353.5" y1="313.8" x2="353.5" y2="445.2" stroke-width="2.2"/>
<line x1="356.8" y1="313.8" x2="353.6" y2="445.2" stroke-width="1.6"/>
<g transform="translate(0 379) skewX(0.65) translate(0 -379)">
<polyline points="405.9,302.9 413,290 419.9,290 426.4,302.9" stroke-width="1.3"/>
<polyline points="405.9,457.1 413,467.9 419.9,467.9 426.4,457.1" stroke-width="1.3"/>
<line x1="405.9" y1="302.9" x2="405.9" y2="457.1" stroke-width="1.2"/>
<line x1="426.4" y1="302.9" x2="426.4" y2="457.1" stroke-width="1.2"/>
<line x1="413.7" y1="334.3" x2="419.2" y2="334.3" stroke-width="1"/>
<line x1="413.7" y1="336.1" x2="419.2" y2="336.1" stroke-width="1"/>
<line x1="413.7" y1="423.6" x2="419.2" y2="423.6" stroke-width="1"/>
<line x1="413.7" y1="421.8" x2="419.2" y2="421.8" stroke-width="1"/>
<path d="M405.9,302.9 Q406.9,326.3 413.7,334.3" stroke-width="1.3" fill="none"/>
<path d="M426.4,302.9 Q425.4,326.3 419.2,334.3" stroke-width="1.3" fill="none"/>
<path d="M405.9,457.1 Q406.9,431.6 413.7,423.6" stroke-width="1.3" fill="none"/>
<path d="M426.4,457.1 Q425.4,431.6 419.2,423.6" stroke-width="1.3" fill="none"/>
<path d="M413.7,336.1 C404.9,362.3 404.9,395.6 413.7,421.8" stroke-width="1.3" fill="none"/>
<path d="M419.2,336.1 C427.4,362.3 427.4,395.6 419.2,421.8" stroke-width="1.3" fill="none"/>
<path d="M427,304 Q427,301.3 432.1,301.3 Q437.2,301.3 437.2,304 L437.2,453 Q437.2,456.2 432.1,456.2 Q427,456.2 427,453 Z" stroke-width="1.3" fill="none"/>
</g>
<line x1="437" y1="301.2" x2="437" y2="456" stroke-width="1.45"/>
<line x1="439.6" y1="301.2" x2="439.6" y2="510" stroke-width="1.3"/>
<line x1="437" y1="301.2" x2="463.8" y2="301.2" stroke-width="1.4"/>
<line x1="439.6" y1="456" x2="465.7" y2="456" stroke-width="1.4"/>
<line x1="439.6" y1="301.2" x2="447.9" y2="315.8" stroke-width="1.45"/>
<line x1="439.6" y1="456" x2="447.9" y2="443.2" stroke-width="1.45"/>
<line x1="447.9" y1="315.8" x2="447.9" y2="483.3" stroke-width="1.45"/>
<line x1="461" y1="301.2" x2="461" y2="456" stroke-width="1.6"/>
<polygon points="461,301.2 459.1,308.4 462.9,308.4" fill="#000" stroke="none"/>
<polygon points="461,456 459.1,448.8 462.9,448.8" fill="#000" stroke="none"/>
<text x="367.9" y="-461.5" font-size="12" textLength="21.4" lengthAdjust="spacingAndGlyphs" transform="rotate(90)">ø22</text>
<line x1="406.9" y1="458" x2="406.9" y2="489.3" stroke-width="1.35"/>
<line x1="427.2" y1="458" x2="427.2" y2="489.3" stroke-width="1.35"/>
<line x1="406.9" y1="486.7" x2="427.2" y2="486.7" stroke-width="1.35"/>
<polygon points="406.9,486.7 413.9,484.9 413.9,488.5" fill="#000" stroke="none"/>
<polygon points="427.2,486.7 420.2,484.9 420.2,488.5" fill="#000" stroke="none"/>
<text x="413.8" y="485.1" font-size="10.3" textLength="8.1" lengthAdjust="spacingAndGlyphs">3</text>
<line x1="424.3" y1="479.3" x2="462.9" y2="479.3" stroke-width="1.45"/>
<line x1="462.9" y1="479.3" x2="462.9" y2="492" stroke-width="1.45"/>
<polygon points="438.9,479.3 431.9,477.5 431.9,481.1" fill="#000" stroke="none"/>
<polygon points="448.2,479.3 455.2,477.5 455.2,481.1" fill="#000" stroke="none"/>
<text x="480.2" y="-463.3" font-size="13" textLength="13.2" lengthAdjust="spacingAndGlyphs" transform="rotate(90)">1.5</text>
<line x1="354" y1="447" x2="354" y2="497" stroke-width="1.35"/>
<line x1="252" y1="428.3" x2="252" y2="510" stroke-width="1.35"/>
<line x1="354" y1="494.4" x2="439.6" y2="494.4" stroke-width="1.35"/>
<polygon points="354,494.4 361.2,492.5 361.2,496.3" fill="#000" stroke="none"/>
<polygon points="439.6,494.4 432.4,492.5 432.4,496.3" fill="#000" stroke="none"/>
<text x="390.9" y="493.7" font-size="11.5" textLength="11.7" lengthAdjust="spacingAndGlyphs">12</text>
<line x1="252" y1="507.6" x2="439.6" y2="507.6" stroke-width="1.35"/>
<polygon points="252,507.6 259.2,505.7 259.2,509.5" fill="#000" stroke="none"/>
<polygon points="439.6,507.6 432.4,505.7 432.4,509.5" fill="#000" stroke="none"/>
<text x="309.4" y="506" font-size="11.3" textLength="41.7" lengthAdjust="spacingAndGlyphs">26.5±0.3</text>
</g>
</svg>
</body></html>
